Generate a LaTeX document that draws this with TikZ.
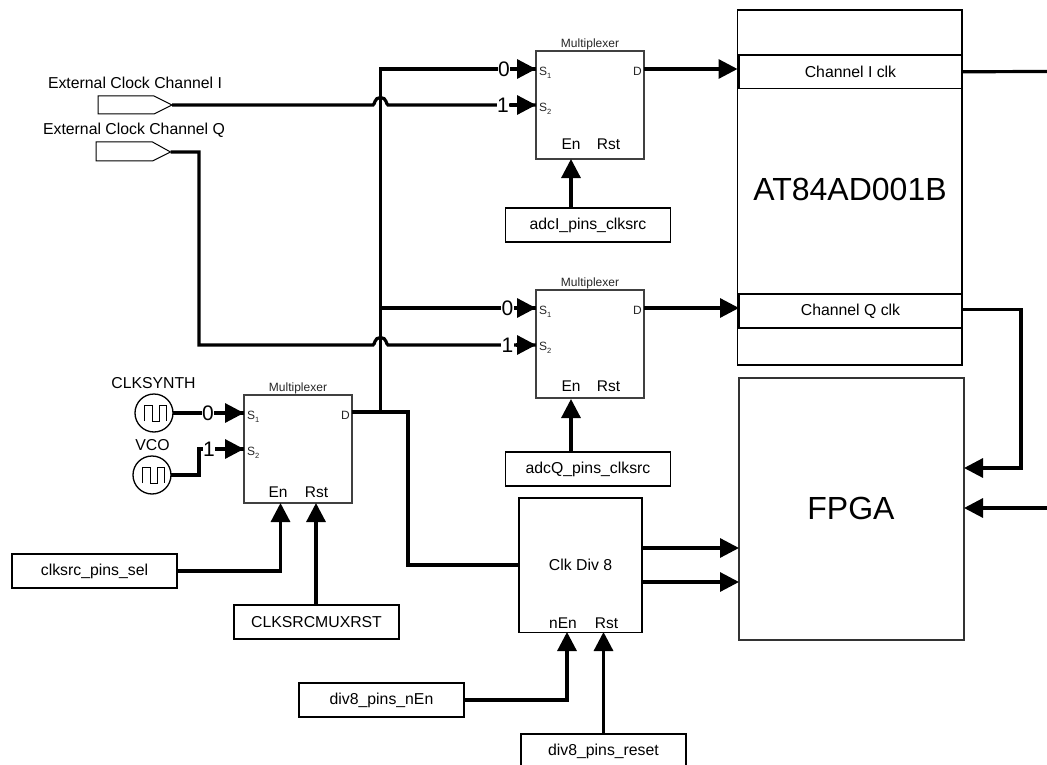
\documentclass[tikz,border=0pt]{standalone}
\usepackage{fontspec}
\setmainfont{Liberation Sans}
\usetikzlibrary{arrows.meta,calc}
\newcommand{\fsz}[1]{\fontsize{#1}{#1}\selectfont}
\newcommand{\subd}[1]{\raisebox{-2.5pt}{\fsz{7.5}#1}}
\tikzset{
  box/.style={draw=black,line width=1.4pt,inner sep=0pt,outer sep=0pt,anchor=north west,align=center,fill=white},
  muxbox/.style={draw=black!75,line width=1.3pt,inner sep=0pt,outer sep=0pt,anchor=north west,minimum width=108pt,minimum height=108pt},
  sig/.style={box,minimum width=165pt,minimum height=34pt,font=\fsz{15.8}},
  wire/.style={line width=3.2pt,line join=miter,draw=black},
  awire/.style={wire,-{Triangle[length=19pt,width=19pt]},shorten >=0pt},
  bit/.style={fill=white,inner sep=0.5pt,font=\fsz{21}},
  port/.style={inner sep=0pt,font=\fsz{12},text=black!85},
  ctl/.style={inner sep=0pt,font=\fsz{15.5}},
  muxtitle/.style={inner sep=0pt,font=\fsz{12},text=black!85},
  lab/.style={inner sep=0pt,font=\fsz{15.8}},
  pin/.style={draw=black,line width=1pt,fill=white},
  osc/.style={draw=black,line width=1.3pt,circle,minimum size=38pt,inner sep=0pt,outer sep=0pt,fill=white},
}
\begin{document}
\begin{tikzpicture}[x=1pt,y=-1pt]
\useasboundingbox (0,0) rectangle (1047,765);
% main boxes
\node[box,minimum width=224.5pt,minimum height=355pt] (adc) at (737.5,10) {};
\node[font=\fsz{32},inner sep=0pt] (adcname) at (850,189) {AT84AD001B};
\node[box,minimum width=223pt,minimum height=33.5pt,font=\fsz{15.8}] (chi) at (739,55) {Channel I clk};
\node[box,minimum width=223pt,minimum height=34pt,font=\fsz{15.8}] (chq) at (739,294) {Channel Q clk};
\node[box,minimum width=225pt,minimum height=262pt,draw=black!80] (fpga) at (739,378) {};
\node[font=\fsz{32},inner sep=0pt] (fpganame) at (851,508) {FPGA};
\node[box,minimum width=123pt,minimum height=134.5pt] (div) at (519,498) {};
\node[inner sep=0pt,font=\fsz{15.8}] (divname) at (580.5,565) {Clk Div 8};
\node[ctl] (divnen) at (563,623) {nEn};
\node[ctl] (divrst) at (606.5,623) {Rst};
% multiplexers
\node[muxbox] (mux1) at (536,51) {};
\node[muxbox] (mux2) at (536,290) {};
\node[muxbox] (mux3) at (244,395) {};
\foreach \m/\n/\ey/\ex in {mux1/a/93/35,mux2/b/96/35,mux3/c/97/34}{
  \node[muxtitle,above=0.5pt] (title\n) at (\m.north) {Multiplexer};
  \node[port,anchor=west] (s1\n) at ($(\m.north west)+(3,22)$) {S\subd{1}};
  \node[port,anchor=west] (s2\n) at ($(\m.north west)+(3,58)$) {S\subd{2}};
  \node[port,anchor=east] (d\n) at ($(\m.north east)+(-2,20)$) {D};
  \node[ctl] (en\n) at ($(\m.north west)+(\ex,\ey)$) {En};
  \node[ctl] (rst\n) at ($(\m.north west)+(72.5,\ey)$) {Rst};
}
% signal boxes
\node[sig] (adcisel) at (505.5,208) {adcI\_pins\_clksrc};
\node[sig] (adcqsel) at (505.5,452) {adcQ\_pins\_clksrc};
\node[sig] (clksel) at (12,554) {clksrc\_pins\_sel};
\node[sig] (clkrst) at (234,605) {CLKSRCMUXRST};
\node[sig] (divensig) at (299,683) {div8\_pins\_nEn};
\node[sig] (divrstsig) at (521,734) {div8\_pins\_reset};
% external clock pins
\node[lab] (exti) at (135,83) {External Clock Channel I};
\node[lab] (extq) at (134,130) {External Clock Channel Q};
\draw[pin] (98,96) -- (154,96) -- (172,105) -- (154,114) -- (98,114) -- cycle;
\draw[pin] (96,142) -- (152.5,142) -- (170.5,152) -- (152.5,161) -- (96,161) -- cycle;
\coordinate (pini) at (172,105);
\coordinate (pinq) at (170.5,152);
% oscillators
\node[lab] (synthname) at (153.5,383) {CLKSYNTH};
\node[lab] (vconame) at (152.5,445) {VCO};
\node[osc] (synth) at (154,413) {};
\node[osc] (vco) at (152,475) {};
\draw[line width=1pt] (144,421) -- (144,405) -- (152,405) -- (152,421) -- (159,421) -- (159,405) -- (166,405) -- (166,421);
\draw[line width=1pt] (142,483) -- ++(0,-16) -- ++(8,0) -- ++(0,16) -- ++(7,0) -- ++(0,-16) -- ++(7,0) -- ++(0,16);
% ports
\coordinate (a0) at (536,69);
\coordinate (a1) at (536,105);
\coordinate (b0) at (536,308);
\coordinate (b1) at (536,345);
\coordinate (c0) at (244,413);
\coordinate (c1) at (244,449);
\coordinate (dc) at (352,412);
\coordinate (tap) at (380.5,412);
\coordinate (tapq) at (380.5,308);
\coordinate (divin) at (519,565);
% wires with jumps
\draw[wire] (dc) -- (tap) -- (380.5,69) -- (a0);
\draw[wire] (tapq) -- (b0);
\draw[wire] (dc) -- (408,412) -- (408,565) -- (divin);
\draw[wire] (pini) -- (373,105) .. controls (375,105) and (374,97.5) .. (380.5,97.5) .. controls (387,97.5) and (386,105) .. (388,105) -- (a1);
\draw[wire] (pinq) -- (199,152) -- (199,345) -- (373,345) .. controls (375,345) and (374,337.5) .. (380.5,337.5) .. controls (387,337.5) and (386,345) .. (388,345) -- (b1);
\draw[wire] (synth.east) -- (c0);
\draw[wire] (vco.east) -- (199,475) -- (199,449) -- (c1);
% bit labels
\node[bit] (bita0) at (504,69) {0};
\node[bit] (bita1) at (503,105) {1};
\node[bit] (bitb0) at (507.5,308) {0};
\node[bit] (bitb1) at (507.5,345) {1};
\node[bit] (bitc0) at (208,413) {0};
\node[bit] (bitc1) at (209,449) {1};
% arrows over labels
\foreach \p/\q in {510/a0,510/a1,516/b0,516/b1,222/c0,222/c1}{
  \draw[awire] (\q -| \p,0) -- (\q);
}
% outputs
\draw[awire] (644,69) -- (adc.west |- 0,69);
\draw[awire] (644,308) -- (chq.west |- 0,308);
\coordinate (outi) at (1047,71.5);
\draw[wire] (chi.east) -- (outi);
\draw[awire] (chq.east |- 0,309.5) -- (1021,309.5) -- (1021,468) -- (fpga.east |- 0,468);
\coordinate (infp) at (1047,508);
\draw[awire] (infp) -- (fpga.east |- infp);
\draw[awire] (div.east |- 0,548) -- (fpga.west |- 0,548);
\draw[awire] (div.east |- 0,582) -- (fpga.west |- 0,582);
% controls
\draw[awire] (adcisel.north -| 571,0) -- (571,159);
\draw[awire] (adcqsel.north -| 571,0) -- (571,399);
\draw[awire] (clksel.east |- 0,571) -- (280.5,571) -- (280.5,503);
\draw[awire] (clkrst.north -| 316,0) -- (316,503);
\draw[awire] (divensig.east |- 0,700) -- (567,700) -- (567,632);
\draw[awire] (divrstsig.north -| 603.5,0) -- (603.5,632);
\end{tikzpicture}
\end{document}
